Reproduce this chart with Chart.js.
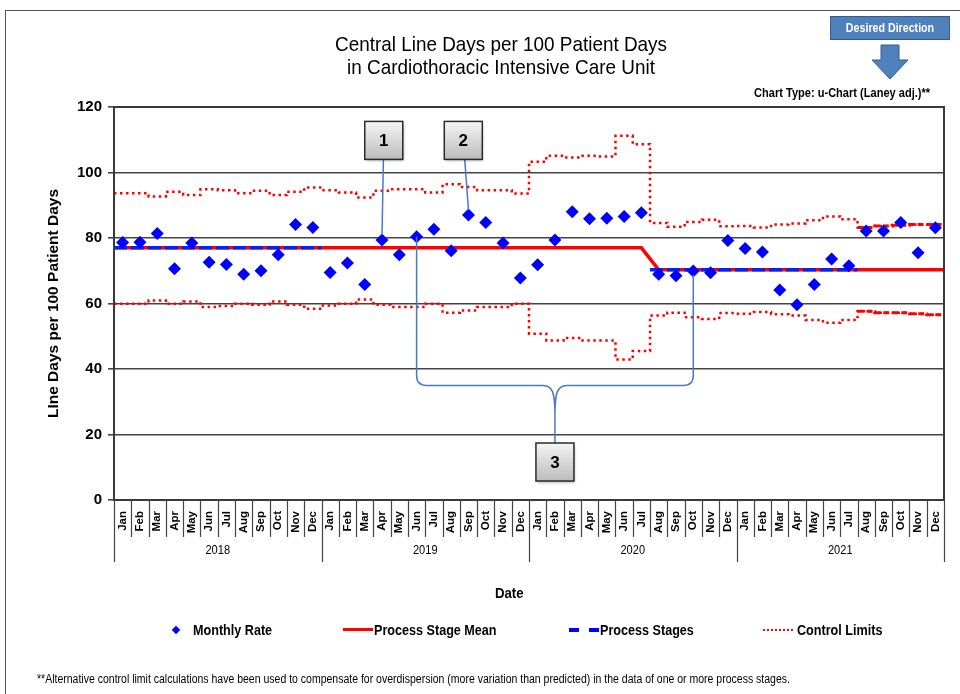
<!DOCTYPE html>
<html>
<head>
<meta charset="utf-8">
<script src="https://cdn.jsdelivr.net/npm/chart.js@4.4.1/dist/chart.umd.min.js"></script>
<style>
  body { margin: 0; background: #fff; }
  #wrap { position: relative; width: 960px; height: 694px; overflow: hidden;
          font-family: 'Liberation Sans Narrow', 'Arial Narrow', 'Liberation Sans', Arial, sans-serif; }
  canvas { position: absolute; left: 0; top: 0; }
  .frame { position: absolute; left: 5px; top: 10px; width: 980px; height: 720px;
           border-left: 1.5px solid #555; border-top: 1.5px solid #555; }
  .t { position: absolute; white-space: nowrap; color: #000; }
  /* no narrow face installed: squeeze a normal one */
  .title { left: 251px; width: 500px; top: 32px; text-align: center; font-size: 21px; line-height: 23px;
           transform: scaleX(0.9); transform-origin: center center; }
  .dir { left: 830px; top: 16px; width: 118px; height: 22px; background: #4f81bd; border: 1px solid #385d8a; }
  .dir span { position: absolute; left: 0; width: 118px; text-align: center; color: #fff; font-weight: bold;
              font-size: 13px; line-height: 22px; transform: scaleX(0.82); transform-origin: 59px center; }
  .ctype { right: 30px; top: 85px; font-weight: bold; font-size: 13px; transform: scaleX(0.85); transform-origin: right center; }
  .date { left: 495px; top: 584px; font-weight: bold; font-size: 15px; transform: scaleX(0.88); transform-origin: left center; }
  .leg { top: 621px; font-weight: bold; font-size: 15px; line-height: 17px; transform: scaleX(0.84); transform-origin: left center; }
  .foot { left: 37px; top: 672px; font-size: 12.5px; transform: scaleX(0.84); transform-origin: left center; }
</style>
</head>
<body>
<div id="wrap">
  <canvas id="chart" width="960" height="694"></canvas>
  <div class="frame"></div>
  <div class="t title">Central Line Days per 100 Patient Days<br>in Cardiothoracic Intensive Care Unit</div>
  <div class="t dir"><span>Desired Direction</span></div>
  <svg style="position:absolute;left:871px;top:44px" width="38" height="36">
    <polygon points="10,1 28,1 28,16 37,16 19,35 1,16 10,16" fill="#4f81bd" stroke="#385d8a" stroke-width="1"/>
  </svg>
  <div class="t ctype">Chart Type: u-Chart (Laney adj.)**</div>
  <div class="t date">Date</div>

  <div style="position:absolute;left:173px;top:627px;width:6px;height:6px;background:#0000ff;transform:rotate(45deg)"></div>
  <div class="t leg" style="left:193px">Monthly Rate</div>
  <div style="position:absolute;left:343px;top:628px;width:30px;height:3px;background:#ff0000"></div>
  <div class="t leg" style="left:374px">Process Stage Mean</div>
  <div style="position:absolute;left:569px;top:628px;width:10px;height:4px;background:#0000ff"></div>
  <div style="position:absolute;left:589px;top:628px;width:10px;height:4px;background:#0000ff"></div>
  <div class="t leg" style="left:600px">Process Stages</div>
  <div style="position:absolute;left:763px;top:629px;width:30px;height:0;border-top:2px dotted #ff0000"></div>
  <div class="t leg" style="left:797px">Control Limits</div>

  <div class="t foot">**Alternative control limit calculations have been used to compensate for overdispersion (more variation than predicted) in the data of one or more process stages.</div>
</div>

<script>
const months = ['Jan', 'Feb', 'Mar', 'Apr', 'May', 'Jun', 'Jul', 'Aug', 'Sep', 'Oct', 'Nov', 'Dec'];
const years = ['2018', '2019', '2020', '2021'];
const yTicks = [0, 20, 40, 60, 80, 100, 120];

const monthlyRate = [
  78.6, 78.7, 81.4, 70.6, 78.5, 72.6, 71.9, 68.9, 70.0, 74.9, 84.1, 83.2,
  69.5, 72.4, 65.8, 79.4, 74.9, 80.4, 82.7, 76.1, 87.0, 84.7, 78.5, 67.8,
  71.8, 79.4, 88.0, 85.9, 86.0, 86.6, 87.7, 68.9, 68.5, 69.9, 69.4, 79.2,
  76.8, 75.7, 64.1, 59.6, 65.8, 73.6, 71.5, 82.1, 82.1, 84.7, 75.5, 83.1
];

const stageMean = [
  77.0, 77.0, 77.0, 77.0, 77.0, 77.0, 77.0, 77.0, 77.0, 77.0, 77.0, 77.0,
  77.0, 77.0, 77.0, 77.0, 77.0, 77.0, 77.0, 77.0, 77.0, 77.0, 77.0, 77.0,
  77.0, 77.0, 77.0, 77.0, 77.0, 77.0, 77.0, 70.3, 70.3, 70.3, 70.3, 70.3,
  70.3, 70.3, 70.3, 70.3, 70.3, 70.3, 70.3, 70.3, 70.3, 70.3, 70.3, 70.3
];

const processStages = [
  77.0, 77.0, 77.0, 77.0, 77.0, 77.0, 77.0, 77.0, 77.0, 77.0, 77.0, 77.0,
  null, null, null, null, null, null, null, null, null, null, null, null,
  null, null, null, null, null, null, null, 70.3, 70.3, 70.3, 70.3, 70.3,
  70.3, 70.3, 70.3, 70.3, 70.3, 70.3, 70.3, null, null, null, null, null
];

const upperLimit = [
  93.7, 93.7, 92.7, 94.1, 93.1, 94.9, 94.6, 93.7, 94.4, 93.1, 94.1, 95.4,
  94.6, 93.9, 92.4, 94.4, 94.9, 94.9, 93.9, 96.4, 95.6, 94.6, 94.6, 93.6,
  103.3, 105.1, 104.6, 105.1, 104.9, 111.2, 108.6, 84.6, 83.4, 84.9, 85.6, 83.6,
  83.7, 83.2, 84.1, 84.4, 85.4, 86.6, 85.7, 83.2, 83.7, 83.9, 84.1, 84.1
];

const lowerLimit = [
  59.9, 59.9, 60.9, 59.9, 60.6, 58.9, 59.2, 59.9, 59.6, 60.6, 59.6, 58.4,
  59.4, 59.9, 61.2, 59.6, 58.9, 58.9, 59.9, 57.2, 57.9, 58.9, 58.9, 59.9,
  50.8, 48.7, 49.5, 48.7, 48.7, 42.9, 45.5, 56.3, 57.2, 55.8, 55.3, 57.1,
  56.9, 57.4, 56.7, 56.3, 55.0, 54.1, 55.0, 57.6, 57.2, 57.2, 56.9, 56.6
];

// last stage of the limits is drawn with a heavier dash
const lastLimitStage = 43;

const labels = years.flatMap(() => months);
const SANS = "'Liberation Sans', Arial, sans-serif";

// points for a line on the linear scale, stretched half a month at each end
function linePoints(values, from = 0, to = values.length - 1) {
  const pts = [];
  let start = null;
  for (let i = from; i <= to; i++) {
    const v = values[i];
    if (v === null) {
      if (start !== null) { pts.push({ x: i - 0.5, y: values[i - 1] }, { x: i - 0.5, y: null }); start = null; }
      continue;
    }
    if (start === null) { start = i; pts.push({ x: i - 0.5, y: v }); }
    pts.push({ x: i, y: v });
  }
  if (start !== null) pts.push({ x: to + 0.5, y: values[to] });
  return pts;
}

const extras = {
  id: 'extras',
  afterDraw(chart) {
    const { ctx, chartArea: a, scales: { xl, y } } = chart;
    ctx.save();
    ctx.strokeStyle = '#3a3a3a';
    ctx.lineWidth = 2;
    ctx.strokeRect(a.left, a.top, a.right - a.left, a.bottom - a.top);

    // month / year separators under the axis
    ctx.lineWidth = 1.2;
    ctx.strokeStyle = '#444';
    for (let i = 0; i <= labels.length; i++) {
      const x = Math.round(xl.getPixelForValue(i - 0.5)) + 0.5;
      ctx.beginPath();
      ctx.moveTo(x, a.bottom);
      ctx.lineTo(x, a.bottom + (i % 12 === 0 ? 62 : 37));
      ctx.stroke();
    }

    // year labels, centred under their twelve months
    ctx.fillStyle = '#000';
    ctx.font = '13px ' + SANS;
    ctx.textAlign = 'center';
    ctx.textBaseline = 'middle';
    years.forEach((yr, k) => {
      ctx.save();
      ctx.translate(xl.getPixelForValue(k * 12 + 5.5), a.bottom + 50);
      ctx.scale(0.85, 1);
      ctx.fillText(yr, 0, 0);
      ctx.restore();
    });

    // callouts
    const px = i => xl.getPixelForValue(i);
    const py = v => y.getPixelForValue(v);
    ctx.strokeStyle = '#4a78c8';
    ctx.lineWidth = 1.5;

    const b1 = { x: px(15.1), y: py(109.8) };
    const b2 = { x: px(19.7), y: py(109.8) };
    ctx.beginPath();
    ctx.moveTo(b1.x, b1.y);
    ctx.lineTo(px(15), py(monthlyRate[15]) - 5);
    ctx.moveTo(b2.x, b2.y);
    ctx.lineTo(px(20), py(monthlyRate[20]) - 5);
    ctx.stroke();

    const xa = px(17), xb = px(33), xm = (xa + xb) / 2;
    const yh = py(35), r = 10;
    const b3 = { x: xm, y: py(11.6) };
    ctx.beginPath();
    ctx.moveTo(xa, py(monthlyRate[17]));
    ctx.lineTo(xa, yh - r);
    ctx.quadraticCurveTo(xa, yh, xa + r, yh);
    ctx.lineTo(xm - 12, yh);
    ctx.bezierCurveTo(xm - 2, yh, xm, yh + 8, xm, yh + 30);
    ctx.lineTo(xm, b3.y);
    ctx.moveTo(xb, py(monthlyRate[33]) + 4);
    ctx.lineTo(xb, yh - r);
    ctx.quadraticCurveTo(xb, yh, xb - r, yh);
    ctx.lineTo(xm + 12, yh);
    ctx.bezierCurveTo(xm + 2, yh, xm, yh + 8, xm, yh + 30);
    ctx.stroke();

    [[b1, '1'], [b2, '2'], [b3, '3']].forEach(([b, t]) => drawBox(ctx, b.x, b.y, t));
    ctx.restore();
  }
};

function drawBox(ctx, cx, cy, text) {
  const s = 38;
  ctx.save();
  ctx.shadowColor = 'rgba(0,0,0,0.35)';
  ctx.shadowOffsetX = 1;
  ctx.shadowOffsetY = 2;
  ctx.shadowBlur = 3;
  const g = ctx.createLinearGradient(0, cy - s / 2, 0, cy + s / 2);
  g.addColorStop(0, '#f5f5f5');
  g.addColorStop(1, '#bcbcbc');
  ctx.fillStyle = g;
  ctx.fillRect(cx - s / 2, cy - s / 2, s, s);
  ctx.shadowColor = 'transparent';
  ctx.strokeStyle = '#2b2b2b';
  ctx.lineWidth = 1.5;
  ctx.strokeRect(cx - s / 2, cy - s / 2, s, s);
  ctx.fillStyle = '#000';
  ctx.font = 'bold 17px ' + SANS;
  ctx.textAlign = 'center';
  ctx.textBaseline = 'middle';
  ctx.fillText(text, cx, cy + 1);
  ctx.restore();
}

const limitStyle = {
  type: 'line', xAxisID: 'xl', borderColor: '#ff0000', borderWidth: 2.5,
  borderDash: [2.5, 3.5], stepped: 'middle', pointRadius: 0, fill: false
};
const lastStyle = { ...limitStyle, borderWidth: 3, borderDash: [6, 3] };

new Chart(document.getElementById('chart'), {
  type: 'line',
  data: {
    labels: labels,
    datasets: [
      { label: 'Monthly Rate', data: monthlyRate, showLine: false, pointStyle: 'rectRot',
        pointRadius: 6.5, pointBackgroundColor: '#0000ff', pointBorderColor: '#0000ff',
        pointBorderWidth: 0, order: 0 },
      { label: 'Process Stages', xAxisID: 'xl', data: linePoints(processStages), borderColor: '#0022ff',
        borderWidth: 3.5, borderDash: [13, 4], pointRadius: 0, spanGaps: false, order: 1 },
      { label: 'Process Stage Mean', xAxisID: 'xl', data: linePoints(stageMean), borderColor: '#ff0000',
        borderWidth: 3.5, pointRadius: 0, order: 2 },
      { label: 'Control Limits', data: linePoints(upperLimit), ...limitStyle, order: 3 },
      { label: 'LCL', data: linePoints(lowerLimit), ...limitStyle, order: 3 },
      { label: 'UCL last', data: linePoints(upperLimit, lastLimitStage), ...lastStyle, order: 3 },
      { label: 'LCL last', data: linePoints(lowerLimit, lastLimitStage), ...lastStyle, order: 3 }
    ]
  },
  options: {
    responsive: false,
    animation: false,
    layout: { padding: { top: 107, right: 16, bottom: 154, left: 0 } },
    plugins: { legend: { display: false }, tooltip: { enabled: false }, title: { display: false } },
    scales: {
      x: {
        type: 'category', offset: true,
        grid: { display: false },
        border: { display: true, color: '#333', width: 2 },
        ticks: { autoSkip: false, maxRotation: 90, minRotation: 90, padding: 3, color: '#000',
                 font: { family: SANS, size: 11.5, weight: 'bold' } },
        afterFit: s => { s.height = 40; }
      },
      xl: { type: 'linear', display: false, min: -0.5, max: labels.length - 0.5 },
      y: {
        min: yTicks[0], max: yTicks[yTicks.length - 1],
        afterBuildTicks: s => { s.ticks = yTicks.map(v => ({ value: v })); },
        grid: { color: '#444', lineWidth: 1.6, tickLength: 6 },
        border: { display: true, color: '#333', width: 2 },
        ticks: { padding: 6, color: '#000', font: { family: SANS, size: 15, weight: 'bold' } },
        title: { display: true, text: 'LIne Days per 100 Patient Days', color: '#000',
                 font: { family: SANS, size: 15.5, weight: 'bold' }, padding: { top: 44, bottom: 0 } },
        afterFit: s => { s.width = 114; }
      }
    }
  },
  plugins: [extras]
});
</script>
</body>
</html>
